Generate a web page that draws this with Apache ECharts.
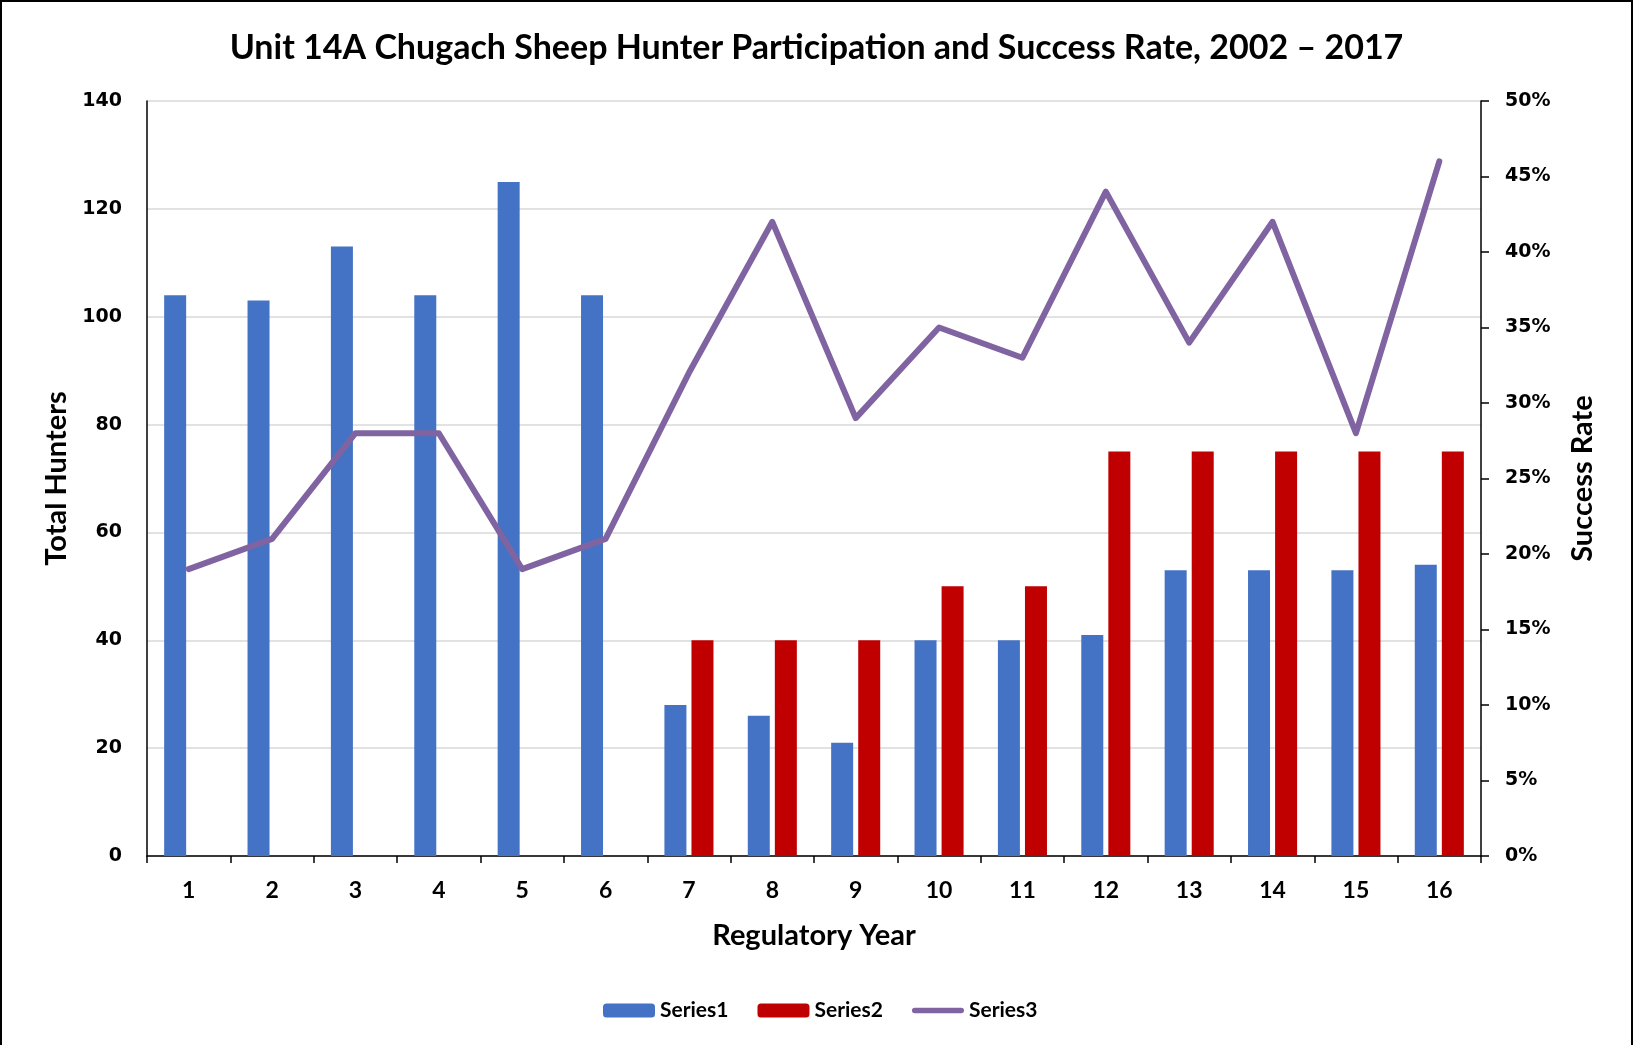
<!DOCTYPE html>
<html>
<head>
<meta charset="utf-8">
<title>Unit 14A Chugach Sheep Hunter Participation</title>
<script src="https://cdn.jsdelivr.net/npm/echarts@6/dist/echarts.min.js"></script>
<style>
  body { margin: 0; background: #fff; }
  #chart { position: absolute; left: 0; top: 0; width: 1633px; height: 1045px; }
  #frame { position: absolute; left: 0; top: 0; width: 1633px; height: 1045px; box-sizing: border-box;
           border-top: 2px solid #000; border-left: 2px solid #000; border-right: 2px solid #000; pointer-events: none; }
</style>
</head>
<body>
<div id="chart"></div>
<div id="frame"></div>
<script>
// x축 카테고리 (Regulatory Year)
let years = ['1','2','3','4','5','6','7','8','9','10','11','12','13','14','15','16'];
// 막대 데이터
let series1 = [104,103,113,104,125,104,28,26,21,40,40,41,53,53,53,54];
let series2 = [null,null,null,null,null,null,40,40,40,50,50,75,75,75,75,75];
// 선 데이터 (Success Rate, %)
let series3 = [19,21,28,28,19,21,32,42,29,35,33,44,34,42,28,46];

let baseFont = 'Lato, "Open Sans", sans-serif';
let tickFont = '"DejaVu Sans", Verdana, sans-serif';

// 범례용 둥근 선 아이콘
let lineIcon = 'path://M3,0 L53,0 A3,3 0 0 1 53,6 L3,6 A3,3 0 0 1 3,0 Z';

var myChart = echarts.init(document.getElementById('chart'));
var option = {
  backgroundColor: '#fff',
  animation: false,
  title: {
    text: 'Unit 14A Chugach Sheep Hunter Participation and Success Rate, 2002 \u2013 2017',
    left: 'center',
    top: 26,
    textStyle: { fontFamily: baseFont, fontWeight: 'bold', fontSize: 34, color: '#000' }
  },
  legend: {
    left: 598,
    top: 995,
    itemWidth: 52,
    itemHeight: 14,
    itemGap: 29,
    textStyle: { fontFamily: baseFont, fontWeight: 'bold', fontSize: 21, color: '#000' },
    data: [
      'Series1',
      'Series2',
      { name: 'Series3', icon: lineIcon, itemStyle: { color: '#8064A2' } }
    ]
  },
  grid: { left: 147, right: 152, top: 101, bottom: 189 },
  xAxis: {
    type: 'category',
    data: years,
    name: 'Regulatory Year',
    nameLocation: 'middle',
    nameGap: 65,
    nameTextStyle: { fontFamily: baseFont, fontWeight: 'bold', fontSize: 29, color: '#000' },
    axisLine: { lineStyle: { color: '#000', width: 1.5 } },
    axisTick: { show: true, length: 7, lineStyle: { color: '#000', width: 1.5 } },
    axisLabel: { margin: 23, fontFamily: baseFont, fontWeight: 'bold', fontSize: 23, color: '#000' }
  },
  yAxis: [
    {
      type: 'value',
      min: 0,
      max: 140,
      interval: 20,
      name: 'Total Hunters',
      nameLocation: 'middle',
      nameRotate: 90,
      nameGap: 75,
      nameTextStyle: { fontFamily: baseFont, fontWeight: 'bold', fontSize: 29, color: '#000' },
      axisLine: { show: true, lineStyle: { color: '#000', width: 1.5 } },
      axisTick: { show: false },
      axisLabel: { margin: 25, fontFamily: tickFont, fontWeight: 'bold', fontSize: 19, color: '#000' },
      splitLine: { lineStyle: { color: '#d9d9d9', width: 1.5 } }
    },
    {
      type: 'value',
      min: 0,
      max: 50,
      interval: 5,
      position: 'right',
      name: 'Success Rate',
      nameLocation: 'middle',
      nameRotate: 90,
      nameGap: 87,
      nameTextStyle: { fontFamily: baseFont, fontWeight: 'bold', fontSize: 29, color: '#000' },
      axisLine: { show: true, lineStyle: { color: '#000', width: 1.5 } },
      axisTick: { show: true, length: 8, lineStyle: { color: '#000', width: 1.5 } },
      axisLabel: { margin: 24, formatter: '{value}%', fontFamily: tickFont, fontWeight: 'bold', fontSize: 19, color: '#000' },
      splitLine: { show: false }
    }
  ],
  series: [
    {
      name: 'Series1',
      type: 'bar',
      data: series1,
      barWidth: 22,
      barGap: '23%',
      itemStyle: { color: '#4472C4' }
    },
    {
      name: 'Series2',
      type: 'bar',
      data: series2,
      barWidth: 22,
      barGap: '23%',
      itemStyle: { color: '#C00000' }
    },
    {
      name: 'Series3',
      type: 'line',
      yAxisIndex: 1,
      data: series3,
      symbol: 'none',
      lineStyle: { color: '#8064A2', width: 6, cap: 'round', join: 'round' },
      itemStyle: { color: '#8064A2' },
      z: 5
    }
  ]
};
myChart.setOption(option);
</script>
</body>
</html>
